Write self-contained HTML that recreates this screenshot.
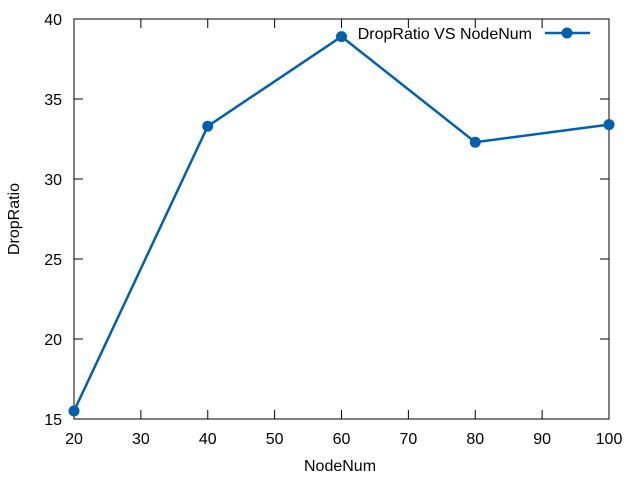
<!DOCTYPE html>
<html><head><meta charset="utf-8"><style>
body{margin:0;background:#fff;}
svg{display:block;font-family:"Liberation Sans",sans-serif;}
</style></head><body>
<svg width="640" height="480" id="chart">
<rect x="0" y="0" width="640" height="480" fill="#fff"/>
<g id="axes"></g>
<g id="series"></g>
<text x="340" y="471" font-size="16" text-anchor="middle">NodeNum</text>
<text x="19" y="219" font-size="16" text-anchor="middle" transform="rotate(-90 19 219)">DropRatio</text>
<g>
<text x="532" y="39" font-size="16" text-anchor="end">DropRatio VS NodeNum</text>
<line x1="545" y1="33" x2="590" y2="33" stroke="#0060ad" stroke-width="2.5"/>
<circle cx="567" cy="33" r="5.5" fill="#0060ad"/>
</g>
</svg>
<script>
const xValues = [20, 40, 60, 80, 100];
const yValues = [15.5, 33.3, 38.9, 32.3, 33.4];
const xTicks = [20, 30, 40, 50, 60, 70, 80, 90, 100];
const yTicks = [15, 20, 25, 30, 35, 40];

const L=74,R=609,T=19,B=419;
const xs=v=>L+(v-20)/(100-20)*(R-L);
const ys=v=>B-(v-15)/(40-15)*(B-T);
const NS="http://www.w3.org/2000/svg";
const axes=document.getElementById('axes');
function mk(tag,attrs,parent){const e=document.createElementNS(NS,tag);for(const k in attrs)e.setAttribute(k,attrs[k]);parent.appendChild(e);return e;}
const frame=mk('rect',{x:L,y:T,width:R-L,height:B-T,fill:'none',stroke:'#000','stroke-width':1},axes);


xTicks.forEach(t=>{
  const x=xs(t);
  const a=mk('line',{x1:x,y1:B,x2:x,y2:B-9,stroke:'#000'},axes);
  
  
  const b=mk('line',{x1:x,y1:T,x2:x,y2:T+9,stroke:'#000'},axes);
  
  
  const tx=mk('text',{x:x,y:B+25,'font-size':16,'text-anchor':'middle'},axes);
  tx.textContent=t;
  
  
});
yTicks.forEach(t=>{
  const y=ys(t);
  const a=mk('line',{x1:L,y1:y,x2:L+9,y2:y,stroke:'#000'},axes);
  
  
  const b=mk('line',{x1:R,y1:y,x2:R-9,y2:y,stroke:'#000'},axes);
  
  
  const tx=mk('text',{x:L-12,y:y+6,'font-size':16,'text-anchor':'end'},axes);
  tx.textContent=t;
  
  
});
const s=document.getElementById('series');
const pts=xValues.map((v,i)=>xs(v)+','+ys(yValues[i])).join(' ');
const pl=mk('polyline',{points:pts,fill:'none',stroke:'#0060ad','stroke-width':2.5},s);


xValues.forEach((v,i)=>{
  const c=mk('circle',{cx:xs(v),cy:ys(yValues[i]),r:5.5,fill:'#0060ad'},s);
  
  
});
</script>
</body></html>
